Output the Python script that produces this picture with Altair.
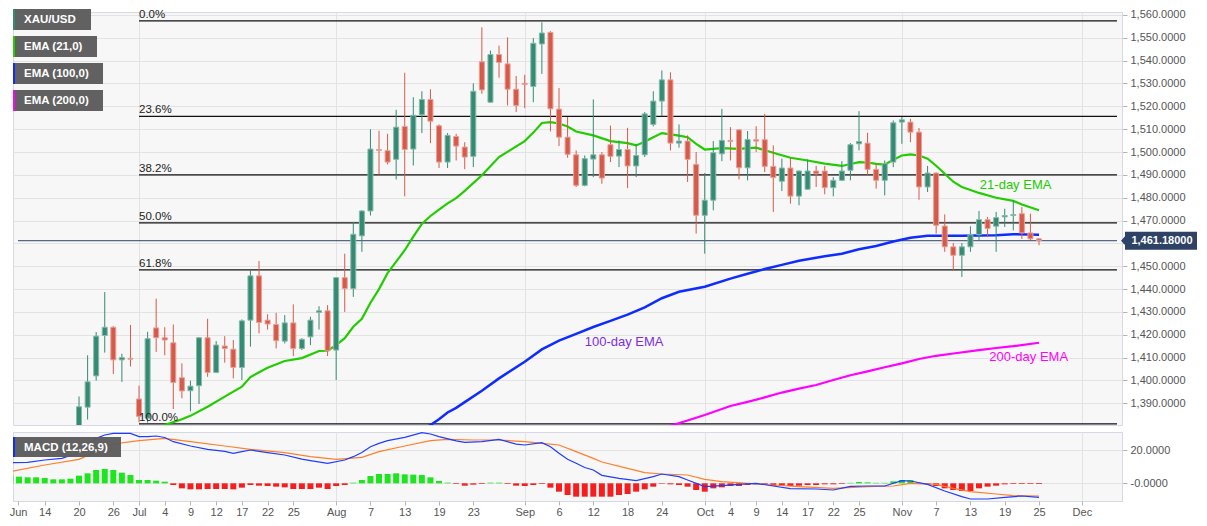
import altair as alt
import pandas as pd

# ---------------- data ----------------
days = pd.bdate_range("2019-06-10", "2019-12-06")
day_str = [d.strftime("%Y-%m-%d") for d in days]

first_candle = "2019-06-20"
opens = [1360.0,1388.3,1402.0,1419.7,1423.3,1409.0,1409.7,1391.9,1383.5,1423.0,
         1418.7,1416.5,1401.2,1395.5,1397.7,1418.7,1403.5,1415.1,1413.7,1405.7,
         1426.4,1445.8,1426.4,1424.5,1417.2,1425.2,1414.0,1419.1,1429.8,1430.5,
         1413.3,1445.0,1440.2,1463.3,1474.2,1501.1,1500.6,1496.8,1511.2,1501.3,
         1516.3,1523.0,1511.5,1495.6,1506.8,1502.2,1498.1,1539.5,1521.8,1542.7,
         1538.6,1527.5,1530.1,1528.7,1547.3,1552.4,1518.8,1506.5,1498.8,1485.4,
         1496.9,1498.8,1503.2,1498.2,1501.1,1493.9,1498.8,1512.1,1522.3,1531.6,
         1503.9,1504.8,1494.6,1472.3,1478.9,1499.2,1505.1,1509.7,1493.1,1505.4,
         1505.4,1493.7,1487.2,1493.0,1480.7,1483.7,1491.7,1491.7,1484.4,1487.6,
         1492.0,1503.6,1503.9,1492.4,1487.6,1495.6,1513.1,1513.1,1508.7,1484.7,
         1490.8,1467.6,1458.5,1454.8,1458.5,1463.8,1470.4,1467.5,1471.6,1472.2,
         1473.0,1464.6,1462.0]
highs = [1393.0,1411.0,1421.2,1438.7,1423.8,1411.7,1424.3,1397.7,1421.3,1435.8,
         1423.3,1424.5,1407.5,1399.9,1418.9,1427.0,1417.2,1419.4,1417.7,1426.7,
         1448.3,1452.3,1429.0,1429.6,1428.6,1433.3,1418.5,1427.9,1432.5,1433.0,
         1445.2,1455.5,1469.4,1474.5,1510.0,1509.3,1508.0,1518.5,1534.7,1524.0,
         1526.6,1527.5,1512.1,1508.3,1508.0,1504.3,1530.1,1554.6,1544.4,1546.6,
         1550.2,1533.3,1533.8,1549.9,1556.8,1552.9,1528.0,1515.3,1500.7,1498.5,
         1523.0,1500.0,1511.6,1505.1,1510.6,1503.6,1517.5,1526.6,1535.7,1534.9,
         1512.1,1507.3,1500.0,1490.8,1504.8,1518.9,1510.9,1509.9,1509.2,1511.3,
         1516.7,1502.9,1497.1,1497.4,1491.9,1496.8,1493.9,1493.9,1489.0,1496.0,
         1503.9,1517.9,1508.4,1494.9,1496.3,1513.8,1515.3,1514.5,1510.5,1493.9,
         1491.0,1472.7,1460.2,1460.2,1467.5,1474.2,1471.6,1473.8,1475.2,1478.9,
         1475.9,1473.0,1462.2]
lows = [1358.0,1382.9,1399.9,1412.2,1402.8,1399.4,1406.1,1381.7,1381.5,1412.5,
        1411.0,1387.5,1392.2,1386.5,1389.7,1401.6,1403.2,1407.8,1400.9,1400.2,
        1414.8,1420.6,1422.3,1414.0,1416.2,1410.7,1413.3,1415.5,1422.3,1410.7,
        1400.2,1430.0,1436.6,1456.3,1472.2,1490.2,1494.6,1488.0,1480.6,1494.1,
        1508.3,1503.9,1493.0,1493.0,1496.3,1492.5,1493.4,1525.5,1521.5,1532.5,
        1520.4,1517.5,1519.2,1521.8,1534.2,1509.0,1502.6,1497.5,1484.7,1485.0,
        1489.0,1486.1,1495.6,1493.4,1484.2,1489.0,1497.8,1511.2,1515.7,1500.7,
        1501.9,1486.9,1464.3,1455.5,1474.5,1496.0,1496.3,1488.0,1487.6,1500.0,
        1491.2,1473.8,1482.9,1477.4,1476.7,1483.5,1484.7,1481.5,1480.6,1487.3,
        1487.6,1500.7,1489.8,1484.0,1481.0,1493.4,1503.6,1504.3,1479.1,1482.5,
        1464.3,1456.3,1448.3,1445.3,1456.3,1461.1,1462.8,1456.3,1467.2,1465.7,
        1462.0,1461.4,1459.2]
closes = [1388.5,1399.4,1419.4,1423.3,1409.0,1410.0,1409.3,1384.3,1418.3,1418.7,
          1417.7,1399.1,1395.4,1397.5,1418.7,1403.5,1415.5,1414.0,1405.7,1426.1,
          1445.8,1425.4,1424.7,1417.4,1425.2,1414.0,1418.0,1426.4,1430.5,1413.0,
          1445.0,1440.2,1464.0,1474.2,1501.3,1500.7,1495.6,1510.9,1501.1,1516.1,
          1523.0,1513.5,1495.6,1507.3,1502.6,1497.8,1526.6,1527.2,1542.7,1539.2,
          1527.5,1520.4,1529.6,1547.6,1552.1,1518.9,1506.5,1499.0,1485.4,1497.1,
          1498.8,1488.6,1498.1,1501.1,1493.9,1498.5,1516.7,1522.3,1531.6,1503.9,
          1504.8,1496.8,1472.3,1478.9,1499.7,1505.1,1504.6,1493.1,1505.5,1504.8,
          1493.7,1488.8,1493.0,1480.7,1491.7,1491.7,1490.5,1484.4,1487.6,1491.7,
          1503.2,1504.6,1492.4,1487.6,1494.9,1512.8,1514.1,1508.7,1484.7,1490.8,
          1467.9,1458.5,1454.8,1458.5,1463.8,1470.4,1466.5,1471.3,1472.2,1472.6,
          1464.6,1462.0,1461.2]

# EMA readings (trading-day number since 2019-06-10, value)
ema21_idx = [17,18,20,21,23,25,27,28,30,32,34,36,37,38,39,40,41,42,43,44,45,46,47,48,49,50,51,52,53,55,
             57,60,61,62,63,64,65,66,68,70,72,73,74,75,76,77,78,79,80,81,83,85,87,89,91,93,95,97,99,100,
             101,102,103,104,105,106,107,108,109,110,111,113,115,117,118,120]
ema21_val = [1377.5,1380.5,1383.0,1384.5,1388.5,1392.9,1397.3,1401.5,1405.6,1408.5,1409.8,1412.9,1413.0,1415.5,
             1418.5,1423.5,1427.0,1434.0,1440.0,1447.0,1452.0,1457.0,1463.0,1468.5,1472.0,1474.8,1477.5,1479.8,
             1483.0,1489.8,1497.8,1504.8,1508.5,1512.7,1513.1,1512.5,1511.2,1509.0,1507.3,1504.8,1503.9,1502.9,
             1504.5,1506.5,1508.3,1507.7,1507.2,1506.5,1503.6,1501.1,1501.7,1501.4,1501.9,1499.7,1497.5,1496.3,
             1494.9,1493.9,1495.6,1495.4,1494.8,1494.5,1496.6,1498.5,1499.0,1498.5,1497.1,1494.0,1490.5,1487.0,
             1484.7,1482.1,1480.0,1478.6,1477.0,1474.5]
ema100_idx = [48,49,50,51,52,53,55,57,60,62,64,66,68,70,72,74,76,78,81,84,86,88,90,92,95,97,99,101,103,105,
              107,111,115,117,120]
ema100_val = [1378.5,1380.5,1383.0,1386.0,1388.0,1390.5,1395.5,1400.9,1408.2,1413.6,1417.4,1420.4,1423.4,1426.1,
              1428.8,1432.0,1436.0,1438.8,1441.0,1444.6,1446.7,1448.8,1450.6,1452.4,1454.4,1455.5,1457.4,1458.9,
              1460.8,1462.5,1463.3,1463.4,1463.6,1464.0,1463.8]
ema200_idx = [76,77,79,81,84,86,88,90,92,94,96,98,100,102,104,106,108,110,113,115,117,120]
ema200_val = [1378.8,1380.2,1382.5,1384.9,1388.8,1390.6,1392.6,1394.7,1396.4,1398.0,1400.2,1402.3,1404.0,1405.8,
              1407.5,1409.4,1410.8,1411.8,1413.3,1414.2,1415.0,1416.5]

# MACD (12,26,9)
macd_hist = [5,4,3.6,3.6,3.2,2.4,2.4,2.8,4.6,6, 8,8.6,8,6.4,5,2,2,1.6,1,-1,
             -3,-3.6,-3.6,-3.4,-3.4,-3.4,-3.6,-2.6,-1,-1.4, -1.6,-2,-2.4,-3.4,-3.4,-3.4,-2.6,-3.4,-1.6,-1,
             0.4,2,4.4,5.6,5.6,6,5.4,5.2,5,3.6, 1.4,0.4,-0.4,-1.4,-0.8,-0.4,0.4,0.4,-0.4,-1.4,
             -1.6,-1,-0.4,-2.6,-5,-7,-8,-8,-8,-8, -8,-7,-6.4,-5,-3.6,-2,-0.3,-0.6,-1,-2,
             -4,-5,-3,-2.4,-1.6,-1.6,-1,-0.6,-1,-1.4, -1.4,-1.6,-1.4,-1,-1,-0.6,-0.6,-0.4,0.3,0.8,
             0.6,0.3,0.3,1.2,2,2,0.3,-0.6,-1.6,-3, -4,-4.6,-4.6,-3,-2,-1.4,-0.6,-0.4,-0.4,-0.4, -0.4]
macd_idx = [0,2,4,6,8,9,10,11,12,14,15,16,17,18,19,21,23,25,26,27,28,30,32,34,35,37,39,40,41,42,
            43,44,46,48,49,50,52,53,55,57,59,60,62,63,64,65,66,67,68,69,71,73,75,76,78,79,81,83,85,87,
            89,91,94,96,98,100,102,104,105,107,109,111,112,114,116,118,120]
macd_val = [12.4,12.6,14,15,18.5,21,27,29,30,30,28,28,28.4,27.5,25,22.4,20.4,19.2,18,19,
            20,18.4,17,14.5,13.6,12,14,16,18.5,22,24,25.6,27.6,30.4,29.6,28,25.5,24.6,25,26.4,
            23.5,23,24.4,22,18,14.5,12,9.5,8,4.8,3,1.6,4,5.6,4,2,-2,-1.4,-0.6,0,
            -1.6,-3.2,-3.4,-4,-1.8,-1.6,-1.6,1.6,1.4,-0.6,-4.6,-8,-9.4,-9.4,-8.4,-7.6,-8.4]
sig_idx = [0,4,8,10,12,15,18,21,25,28,32,35,38,41,43,46,49,51,54,57,60,62,64,66,68,69,72,74,76,79,
           81,83,86,89,92,96,100,103,105,108,110,112,115,117,120]
sig_val = [7,11,14.4,19,23.6,25.6,27,25,22.4,20.4,18.4,16,14.4,15.6,19,22.4,25.6,26.4,26,26,
           25,24,23,19,15,12.8,9,6.4,5.6,5,2.4,1,0,-1,-2,-3,-2,-1.6,0,-0.6,-3,-5,-6.4,-7.4,-7.6]

fib_labels = ["0.0%", "23.6%", "38.2%", "50.0%", "61.8%", "100.0%"]
fib_levels = [1557.4, 1515.6, 1490.0, 1469.0, 1448.4, 1381.0]
fib_start = "2019-07-01"
last_price = 1461.18

tick_dates = ["2019-06-14","2019-06-20","2019-06-26","2019-07-01","2019-07-04","2019-07-09","2019-07-12",
              "2019-07-17","2019-07-22","2019-07-25","2019-08-01","2019-08-07","2019-08-13","2019-08-19",
              "2019-08-23","2019-09-02","2019-09-06","2019-09-12","2019-09-18","2019-09-24","2019-10-01",
              "2019-10-04","2019-10-09","2019-10-14","2019-10-17","2019-10-22","2019-10-25","2019-11-01",
              "2019-11-07","2019-11-13","2019-11-19","2019-11-25","2019-12-02"]
tick_text = ["14","20","26","Jul","4","9","12","17","22","25","Aug","7","13","19","23","Sep","6","12",
             "18","24","Oct","4","9","14","17","22","25","Nov","7","13","19","25","Dec"]

legend_names = ["XAU/USD", "EMA (21,0)", "EMA (100,0)", "EMA (200,0)"]

# ---------------- styling ----------------
FONT = "Liberation Sans"
GREEN, RED = "#358a73", "#d65a49"
GREEN_EDGE, RED_EDGE = "#86b9aa", "#e9a097"
C21, C100, C200 = "#22cc00", "#0f2cff", "#ff00ff"
NAVY = "#2e4266"
X0, X1 = 0.88, 129.1
Y0, Y1 = 1380.5, 1561.3
W, HM, HD = 1109, 413, 69

xsc = alt.Scale(domain=[X0, X1], nice=False, zero=False)
ysc = alt.Scale(domain=[Y0, Y1], nice=False, zero=False)
dsc = alt.Scale(domain=[-10.6, 30.8], nice=False, zero=False)

pos = {d: k for k, d in enumerate(day_str)}
tick_idx = [pos[d] for d in tick_dates]
month_idx = [v for v, t in zip(tick_idx, tick_text) if not t.isdigit()]

main_xaxis = alt.Axis(values=month_idx, labels=False, ticks=False, domain=False, grid=True,
                      gridColor="#e3e3e3", title=None)
main_yaxis = alt.Axis(orient="right", values=list(range(1390, 1561, 10)), title=None, grid=True,
                      gridColor="#e3e3e3", tickSize=5, tickColor="#b5b5b5", labelPadding=3,
                      labelExpr="datum.value == 1460 ? '' : format(datum.value, ',.4f')",
                      domainColor="#d6d9e3")


def MX(f):
    return alt.X(f, type="quantitative", scale=xsc, axis=main_xaxis)


def MY(f):
    return alt.Y(f, type="quantitative", scale=ysc, axis=main_yaxis)


first = pos[first_candle]
cdf = pd.DataFrame({"i": list(range(first, first + len(opens))), "open": opens, "high": highs,
                    "low": lows, "close": closes})
bull = "datum.close >= datum.open"

wicks = alt.Chart(cdf).mark_rule(strokeWidth=1, clip=True).encode(
    x=MX("i"), y=MY("low"), y2="high",
    color=alt.condition(bull, alt.value(GREEN), alt.value(RED)))
bodies = alt.Chart(cdf).mark_bar(width=5, clip=True, strokeWidth=1).encode(
    x=MX("i"), y=MY("open"), y2="close",
    color=alt.condition(bull, alt.value(GREEN), alt.value(RED)),
    stroke=alt.condition(bull, alt.value(GREEN_EDGE), alt.value(RED_EDGE)))


def ema_line(idx, val, color, sw):
    df = pd.DataFrame({"i": idx, "v": val})
    return alt.Chart(df).mark_line(color=color, strokeWidth=sw, clip=True).encode(x=MX("i"), y=MY("v"))


fdf = pd.DataFrame({"lbl": fib_labels, "lvl": fib_levels, "x": pos[fib_start], "x2": X1})
fib_rules = alt.Chart(fdf).mark_rule(color="#111111", strokeWidth=1.3).encode(
    x=MX("x"), x2="x2", y=MY("lvl"))
fib_text = alt.Chart(fdf).mark_text(align="left", baseline="bottom", dy=-1, fontSize=11.5,
                                    color="#222222", font=FONT).encode(
    x=MX("x"), y=MY("lvl"), text="lbl")

pdf = pd.DataFrame({"p": [last_price], "x": [X0], "x2": [X1]})
price_rule = alt.Chart(pdf).mark_rule(color=NAVY, strokeWidth=1).encode(x=MX("x"), x2="x2", y=MY("p"))
BOX = "M-1,0L-0.9,-0.11L-0.9,-0.225L0.9,-0.225L0.9,0.225L-0.9,0.225L-0.9,0.11Z"
price_box = alt.Chart(pdf).mark_point(shape=BOX, size=6400, filled=True, opacity=1, color=NAVY,
                                      strokeWidth=0).encode(x=alt.value(W + 39), y=MY("p"))
price_txt = alt.Chart(pdf).mark_text(color="white", fontWeight="bold", fontSize=11, font=FONT).encode(
    x=alt.value(W + 40), y=MY("p"), text=alt.Text("p:Q", format=",.5f"))

ann = []
for txt, xi, yv, col in [("21-day EMA", 113.1, 1485.4, C21),
                         ("100-day EMA", 67.0, 1416.9, "#7b2ee6"),
                         ("200-day EMA", 114.2, 1410.1, C200)]:
    adf = pd.DataFrame({"t": [txt], "x": [xi], "y": [yv]})
    ann.append(alt.Chart(adf).mark_text(align="left", baseline="middle", fontSize=13, color=col,
                                        font=FONT).encode(x=MX("x"), y=MY("y"), text="t"))

one = pd.DataFrame({"t": [0]})
legend_layers = []
box_w = [78, 84, 90, 90]
stripe = [GREEN, C21, C100, C200]
for k, name in enumerate(legend_names):
    y0 = k * 27 - 3
    legend_layers.append(alt.Chart(one).mark_rect(color="#5c5c5c", opacity=0.97).encode(
        x=alt.value(0), x2=alt.value(box_w[k]), y=alt.value(y0), y2=alt.value(y0 + 21)))
    legend_layers.append(alt.Chart(one).mark_rect(color=stripe[k]).encode(
        x=alt.value(0), x2=alt.value(2), y=alt.value(y0), y2=alt.value(y0 + 21)))
    legend_layers.append(alt.Chart(one).mark_text(
        text=name, color="white", fontWeight="bold", fontSize=11.5, align="left", baseline="middle",
        font=FONT).encode(x=alt.value(11), y=alt.value(y0 + 11)))

main = alt.layer(
    fib_rules, price_rule,
    ema_line(ema200_idx, ema200_val, C200, 2.2),
    ema_line(ema100_idx, ema100_val, C100, 2.5),
    ema_line(ema21_idx, ema21_val, C21, 2.2),
    wicks, bodies, fib_text, *ann, *legend_layers, price_box, price_txt
).properties(width=W, height=HM)

# ---------------- MACD panel ----------------
vals = [X0] + tick_idx
texts = ["Jun"] + tick_text
lbl_expr = "[" + ",".join(f"'{t}'" for t in texts) + "][indexof([" + ",".join(str(v) for v in vals) + "], datum.value)]"
grid_test = "indexof([" + ",".join(str(v) for v in month_idx) + "], datum.value) >= 0"
macd_xaxis = alt.Axis(values=vals, labelExpr=lbl_expr, labelFlush=True, labelOverlap=False, grid=True,
                      gridColor="#e3e3e3",
                      gridOpacity={"condition": {"test": grid_test, "value": 1}, "value": 0},
                      ticks=True, tickSize=4, tickColor="#b5b5b5", domain=False, title=None, labelPadding=1)
macd_yaxis = alt.Axis(orient="right", values=[0, 20], title=None, grid=True, gridColor="#e3e3e3",
                      tickSize=5, tickColor="#b5b5b5", labelPadding=3, domainColor="#d6d9e3",
                      labelExpr="datum.value == 0 ? '-0.0000' : format(datum.value, '.4f')")


def DX(f):
    return alt.X(f, type="quantitative", scale=xsc, axis=macd_xaxis)


def DY(f):
    return alt.Y(f, type="quantitative", scale=dsc, axis=macd_yaxis)


hdf = pd.DataFrame({"i": list(range(len(macd_hist))), "h": macd_hist})
hist = alt.Chart(hdf).mark_bar(width=6, clip=True).encode(
    x=DX("i"), y=DY("h"), y2=alt.datum(0),
    color=alt.condition("datum.h >= 0", alt.value("#1ee61e"), alt.value("#f51d1d")))
mline = alt.Chart(pd.DataFrame({"i": macd_idx, "v": macd_val})).mark_line(
    color="#1f3dff", strokeWidth=1.2, clip=True).encode(x=DX("i"), y=DY("v"))
sline = alt.Chart(pd.DataFrame({"i": sig_idx, "v": sig_val})).mark_line(
    color="#ff7f2a", strokeWidth=1.2, clip=True).encode(x=DX("i"), y=DY("v"))
mbox = alt.Chart(one).mark_rect(color="#5c5c5c", opacity=0.97).encode(
    x=alt.value(0), x2=alt.value(108), y=alt.value(5), y2=alt.value(25))
mstripe = alt.Chart(one).mark_rect(color=C100).encode(
    x=alt.value(0), x2=alt.value(2), y=alt.value(5), y2=alt.value(25))
mtext = alt.Chart(one).mark_text(text="MACD (12,26,9)", color="white", fontWeight="bold", fontSize=11.5,
                                 align="left", baseline="middle", font=FONT).encode(
    x=alt.value(11), y=alt.value(15.5))

macd = alt.layer(hist, sline, mline, mbox, mstripe, mtext).properties(width=W, height=HD)

chart = alt.vconcat(main, macd, spacing=5).properties(
    padding=0, background="white"
).configure(font=FONT).configure_axis(
    labelFont=FONT, labelFontSize=11, labelColor="#555555"
).configure_view(stroke="#d6d9e3", fill="#f7f7f7", strokeWidth=1)

chart.save("out.html", embed_options={"renderer": "svg", "actions": False})
